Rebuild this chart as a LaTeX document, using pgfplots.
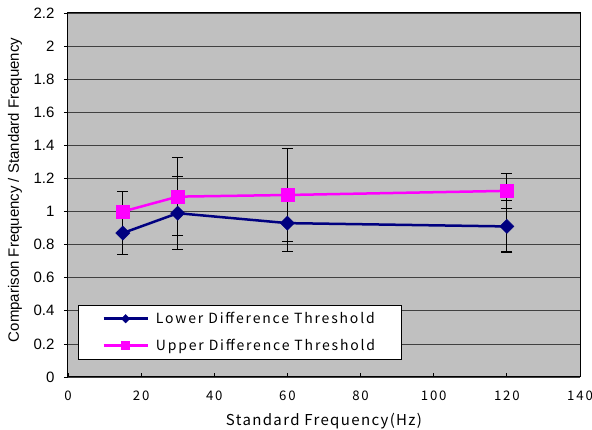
\documentclass[border=0pt]{standalone}
\usepackage{fontspec}
\setmainfont{Liberation Sans}
\newfontfamily\gothX{Noto Sans CJK JP}[LetterSpace=9]
\newfontfamily\gothL{Noto Sans CJK JP}[LetterSpace=13]
\newfontfamily\gothT{Noto Sans CJK JP}[LetterSpace=14]
\usepackage{pgfplots}
\pgfplotsset{compat=1.18}
\definecolor{navyline}{HTML}{000080}
\definecolor{pinkline}{HTML}{FF00FF}
\definecolor{plotbg}{HTML}{C0C0C0}
\definecolor{gridc}{HTML}{404040}
\begin{document}
\begin{tikzpicture}
\path[use as bounding box] (-68pt,-53pt) rectangle (524pt,377pt);
\begin{axis}[
    scale only axis,
    width=512pt, height=364pt,
    xmin=0, xmax=140, ymin=0, ymax=2.2,
    xtick={0,20,...,140},
    ytick={0,0.2,...,2.2},
    yticklabels={0,0.2,0.4,0.6,0.8,1,1.2,1.4,1.6,1.8,2,2.2},
    /pgf/number format/assume math mode=true,
    ymajorgrids=true,
    grid style={gridc, line width=0.8pt},
    axis background/.style={fill=plotbg},
    axis line style={black, line width=1pt},
    tick style={black, line width=0.8pt},
    major tick length=4pt,
    xtick align=inside, ytick align=outside,
    xtick pos=bottom, ytick pos=left,
    yticklabel style={font=\fontsize{15}{17}\selectfont, xshift=-6pt},
    xticklabel style={font=\gothT\fontsize{13.2}{15}\selectfont, yshift=-10pt},
    xlabel={Standard Frequency(Hz)},
    ylabel={Comparison Frequency / Standard Frequency},
    every axis x label/.style={at={(axis description cs:0.5,0)}, anchor=center,
        yshift=-44pt, font=\gothX\fontsize{15}{17}\selectfont},
    every axis y label/.style={at={(axis description cs:-0.1035,0.514)}, anchor=center,
        rotate=90, font=\fontsize{15}{17}\selectfont},
    legend style={at={(axis description cs:0.0195,0.198)}, anchor=north west,
        draw=black, fill=white, line width=0.8pt,
        inner xsep=24pt, inner ysep=5pt, row sep=10pt,
        font=\gothL\fontsize{14}{16}\selectfont},
    legend cell align=left,
    legend image code/.code={
        \draw[mark repeat=2, mark phase=2, #1, line width=2.5pt]
            plot coordinates {(0pt,0pt) (22pt,0pt) (44pt,0pt)};
        \path (49pt,0pt);
    },
    error bars/y dir=both,
    error bars/y explicit,
    error bars/error bar style={black, line width=1.2pt},
    error bars/error mark options={rotate=90, black, mark size=5.5pt, line width=1.2pt},
]
\addplot[navyline, line width=2.5pt, mark=square*, mark size=5pt,
    mark options={rotate=45, fill=navyline, draw=navyline, line width=0.5pt},
    legend image post style={mark size=3pt}]
    coordinates {
    (15,0.87) +- (0,0.13)
    (30,0.99) +- (0,0.22)
    (60,0.93) +- (0,0.17)
    (120,0.91) +- (0,0.155)
};
\addlegendentry{Lower Difference Threshold}
\addplot[pinkline, line width=2.5pt, mark=square*, mark size=6.5pt,
    mark options={fill=pinkline, draw=pinkline, line width=0.5pt},
    legend image post style={mark size=4pt}]
    coordinates {
    (15,1.00) +- (0,0.12)
    (30,1.09) +- (0,0.235)
    (60,1.10) +- (0,0.28)
    (120,1.125) +- (0,0.105)
};
\addlegendentry{Upper Difference Threshold}
\end{axis}
\end{tikzpicture}
\end{document}
